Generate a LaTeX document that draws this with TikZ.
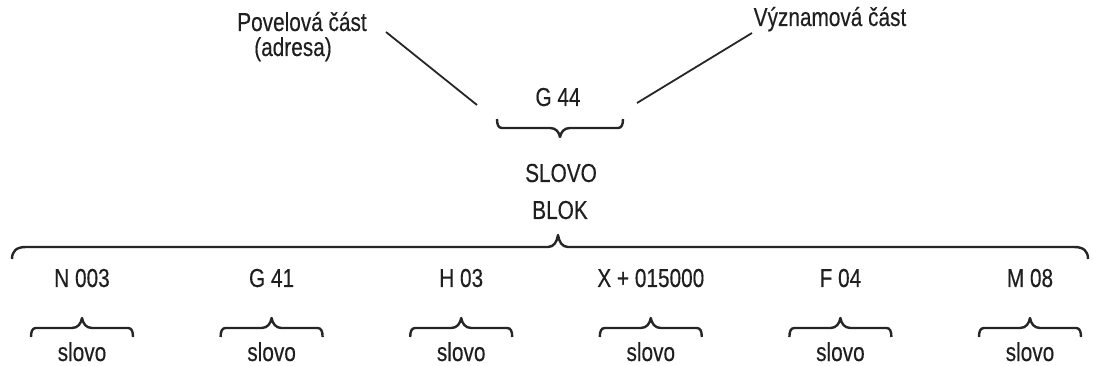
\documentclass[tikz,border=0pt]{standalone}
\usepackage{fontspec}
\setmainfont{Liberation Sans}[FakeStretch=0.8,FakeBold=0.3]
\begin{document}
\begin{tikzpicture}[x=1pt,y=-1pt,
  lbl/.style={anchor=base,inner sep=0pt,text=black!88,
    font=\fontsize{26}{30}\selectfont},
  leader/.style={draw=black!85,line width=1.8pt},
  bracestyle/.style={draw=black!85,line width=2.4pt,line join=round}]
\useasboundingbox (0,0) rectangle (1093,366);

% horizontal brace: left x, right x, tip x, line y, hook length, tip height
% (positive = downwards)
\newcommand\hbrace[7][5]{%
  \draw[bracestyle]
    (#2,{#5+#6}) .. controls (#2,{#5+0.35*#6}) and ({#2+0.3*#1},#5) .. ({#2+#1},#5)
    -- ({#4-10},#5) .. controls ({#4-4},#5) and ({#4-1},{#5+0.45*#7}) .. (#4,{#5+#7})
    .. controls ({#4+1},{#5+0.45*#7}) and ({#4+4},#5) .. ({#4+10},#5)
    -- ({#3-#1},#5) .. controls ({#3-0.3*#1},#5) and (#3,{#5+0.35*#6}) .. (#3,{#5+#6});}

% labels of the word G 44
\node[lbl] (pov) at (302,31) {Povelová část};
\node[lbl] (adr) at (293,56) {(adresa)};
\node[lbl] (vyz) at (830,26) {Významová část};
\node[lbl] (g44) at (558,106) {G 44};
\node[lbl] (slovoA) at (561,182) {SLOVO};
\node[lbl] (blok) at (560,219) {BLOK};

% leader lines
\coordinate (pl1) at (386,32);
\coordinate (pl2) at (477,105);
\coordinate (vl1) at (752,33);
\coordinate (vl2) at (637,103);
\draw[leader] (pl1) -- (pl2);
\draw[leader] (vl1) -- (vl2);

% brace under G 44 (tip down)
\hbrace{497}{623}{560}{128}{-9}{9}

% block brace (tip up)
\hbrace[14]{12}{1088}{558}{247}{12}{-12}

% words of the block
\foreach \i/\txt in {0/N 003,1/G 41,2/H 03,3/X + 015000,4/F 04,5/M 08}{
  \pgfmathsetmacro{\cx}{82+189.6*\i}
  \pgfmathsetmacro{\xl}{\cx-51}
  \pgfmathsetmacro{\xr}{\cx+51}
  \node[lbl] (w\i) at (\cx,287) {\txt};
  \hbrace{\xl}{\xr}{\cx}{328}{9}{-10}
  \node[lbl] (s\i) at (\cx,361) {slovo};
}
\end{tikzpicture}
\end{document}
